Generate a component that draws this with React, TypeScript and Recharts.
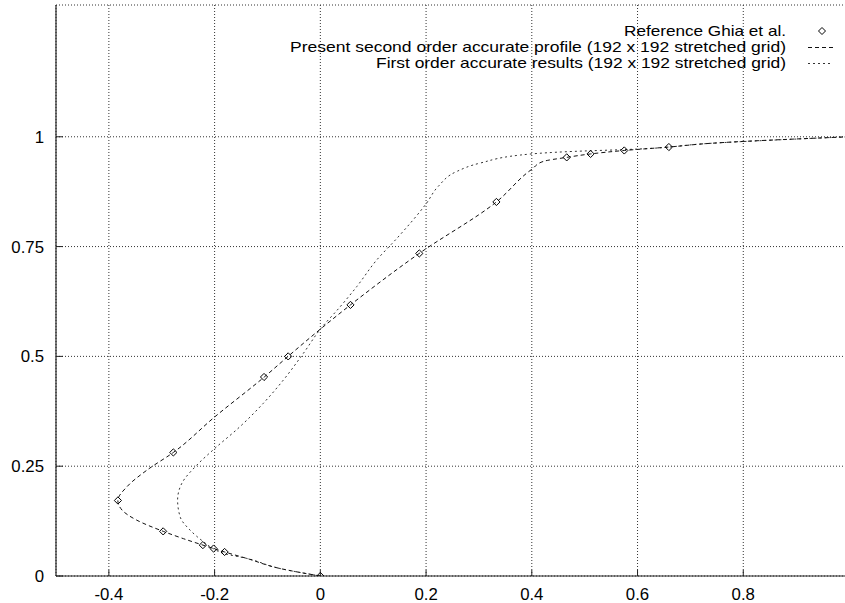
import React from 'react';
import { ComposedChart, Line, Scatter, XAxis, YAxis, CartesianGrid, Legend } from 'recharts';

const FONT = '"Liberation Sans", Arial, Helvetica, sans-serif';
const FS = 16.8;

const xTicks = [-0.4, -0.2, 0, 0.2, 0.4, 0.6, 0.8];
const yTicks = [0, 0.25, 0.5, 0.75, 1];

// Reference Ghia et al. (u along vertical centreline)
const ghiaY = [0, 0.0547, 0.0625, 0.0703, 0.1016, 0.1719, 0.2813, 0.4531, 0.5, 0.6172, 0.7344, 0.8516, 0.9531, 0.9609, 0.9688, 0.9766, 1.0];
const ghiaU = [0, -0.18109, -0.20196, -0.2222, -0.2973, -0.38289, -0.27805, -0.10648, -0.0608, 0.05702, 0.18719, 0.33304, 0.46604, 0.51117, 0.57492, 0.65928, 1.0];

// Present second order accurate profile
const secondY = [0, 0.017, 0.04, 0.0547, 0.0625, 0.0703, 0.085, 0.1016, 0.127, 0.15, 0.1719, 0.203, 0.241, 0.2813, 0.362, 0.4531, 0.5, 0.562, 0.6172, 0.7344, 0.8516, 0.926, 0.944, 0.9531, 0.9609, 0.9688, 0.9766, 0.985, 1.0];
const secondU = [0, -0.076, -0.139, -0.181, -0.202, -0.222, -0.259, -0.297, -0.347, -0.375, -0.383, -0.366, -0.328, -0.278, -0.2, -0.106, -0.061, 0.0, 0.057, 0.187, 0.333, 0.4, 0.422, 0.466, 0.511, 0.575, 0.659, 0.737, 1.0];

// First order accurate results
const firstY = [0, 0.017, 0.04, 0.051, 0.062, 0.078, 0.104, 0.134, 0.173, 0.211, 0.252, 0.29, 0.34, 0.393, 0.446, 0.507, 0.562, 0.613, 0.659, 0.72, 0.769, 0.849, 0.887, 0.921, 0.94, 0.961, 0.966, 0.972, 0.985, 1.0];
const firstU = [0, -0.076, -0.139, -0.182, -0.202, -0.221, -0.246, -0.265, -0.27, -0.262, -0.234, -0.2, -0.152, -0.108, -0.07, -0.032, 0.0, 0.0375, 0.069, 0.107, 0.145, 0.201, 0.223, 0.258, 0.302, 0.4, 0.466, 0.6, 0.737, 1.0];

const legendLabels = [
  'Reference Ghia et al.',
  'Present second order accurate profile (192 x 192 stretched grid)',
  'First order accurate results (192 x 192 stretched grid)',
];
const legendWidths = [162, 496, 410];

const zip = (xs: number[], ys: number[]) => xs.map((x, i) => ({ x, y: ys[i] }));
const ghiaData = zip(ghiaU, ghiaY);
const secondData = zip(secondU, secondY);
const firstData = zip(firstU, firstY);

const SECOND_DASH = '4 3';
const FIRST_DASH = '2 3';
const LEG_FS = 13.9;

const Diamond = (props: any) => {
  const { cx, cy } = props;
  if (cx == null || cy == null) return null;
  const r = 3.6;
  return (
    <path
      d={`M${cx},${cy - r}L${cx + r},${cy}L${cx},${cy + r}L${cx - r},${cy}Z`}
      fill="none"
      stroke="#000"
      strokeWidth={1}
    />
  );
};

const renderLegend = () => (
  <svg width={845} height={50} style={{ display: 'block' }}>
    {legendLabels.map((label, i) => {
      const cy = 8 + i * 16;
      return (
        <g key={i}>
          <text
            x={786}
            y={cy + 5}
            textAnchor="end"
            fontFamily={FONT}
            fontSize={LEG_FS}
            fill="#000"
            textLength={legendWidths[i]}
            lengthAdjust="spacingAndGlyphs"
          >
            {label}
          </text>
          {i === 0 && <path d={`M822,${cy - 3.5}L825.5,${cy}L822,${cy + 3.5}L818.5,${cy}Z`} fill="none" stroke="#000" strokeWidth={1} />}
          {i === 1 && <line x1={808} x2={833} y1={cy + 0.5} y2={cy + 0.5} stroke="#111" strokeDasharray={SECOND_DASH} />}
          {i === 2 && <line x1={808} x2={833} y1={cy + 0.5} y2={cy + 0.5} stroke="#333" strokeDasharray={FIRST_DASH} />}
        </g>
      );
    })}
  </svg>
);

export default function App() {
  return (
    <div style={{ position: 'absolute', left: 0, top: 0, width: 845, height: 603, overflow: 'hidden', background: '#fff' }}>
      <ComposedChart width={860} height={603} margin={{ top: 5, right: 11, bottom: 0, left: 0 }} style={{ fontFamily: FONT }}>
        <CartesianGrid stroke="#333" strokeDasharray="1 2" />
        <XAxis
          type="number"
          dataKey="x"
          domain={[-0.5, 1]}
          ticks={xTicks}
          allowDataOverflow
          interval={0}
          height={27}
          tickSize={-6}
          tickMargin={18}
          axisLine={{ stroke: '#222', strokeWidth: 1.2 }}
          tickLine={{ stroke: '#222' }}
          tick={{ fill: '#000', fontSize: FS, fontFamily: FONT }}
        />
        <XAxis
          xAxisId="top"
          orientation="top"
          type="number"
          dataKey="x"
          domain={[-0.5, 1]}
          ticks={xTicks}
          allowDataOverflow
          interval={0}
          height={0}
          tickSize={-6}
          tick={false}
          axisLine={{ stroke: '#222', strokeWidth: 1.2 }}
          tickLine={{ stroke: '#222' }}
        />
        <YAxis
          type="number"
          dataKey="y"
          domain={[0, 1.3]}
          ticks={yTicks}
          allowDataOverflow
          interval={0}
          width={56}
          tickSize={-7}
          tickMargin={19}
          axisLine={{ stroke: '#222', strokeWidth: 1.2 }}
          tickLine={{ stroke: '#222' }}
          tick={{ fill: '#000', fontSize: FS, fontFamily: FONT }}
        />
        <Line data={firstData} dataKey="y" type="monotoneY" stroke="#333" strokeWidth={1} strokeDasharray={FIRST_DASH} dot={false} isAnimationActive={false} />
        <Line data={secondData} dataKey="y" type="monotoneY" stroke="#111" strokeWidth={1} strokeDasharray={SECOND_DASH} dot={false} isAnimationActive={false} />
        <Scatter data={ghiaData} dataKey="y" shape={<Diamond />} isAnimationActive={false} />
        <Legend
          layout="horizontal"
          verticalAlign="middle"
          align="center"
          wrapperStyle={{ left: 0, top: 23, width: 845, height: 50 }}
          content={renderLegend}
        />
      </ComposedChart>
    </div>
  );
}
